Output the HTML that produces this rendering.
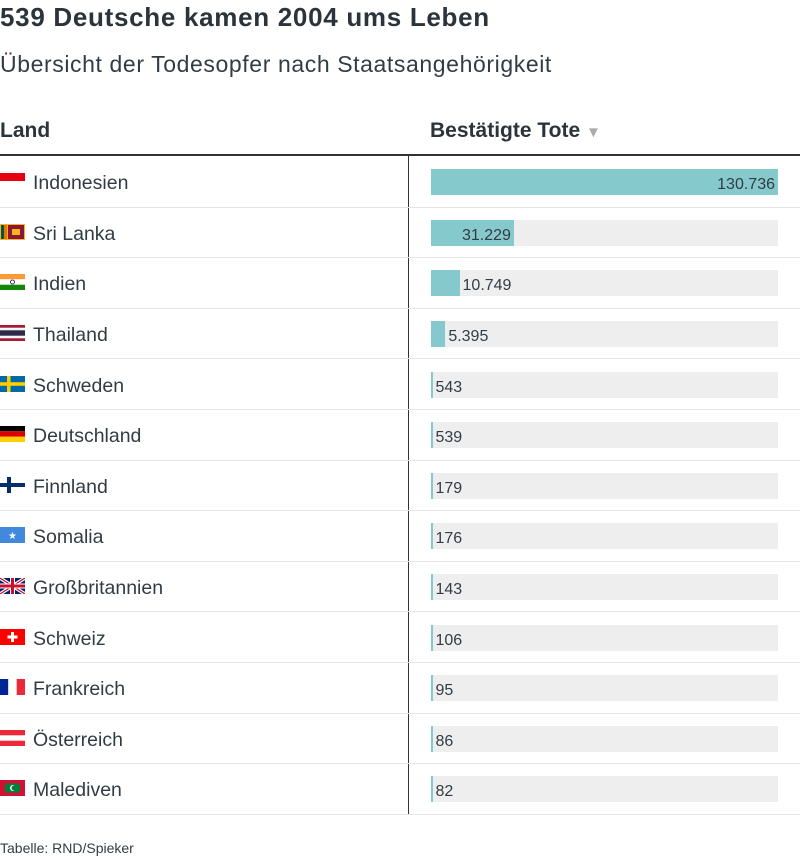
<!DOCTYPE html>
<html><head><meta charset="utf-8">
<style>
body{margin:0;width:800px;height:854px;overflow:hidden;background:#fff;font-family:"Liberation Sans",sans-serif;color:#333c45;position:relative}
#title{position:absolute;left:0;top:2px;font-size:26px;font-weight:bold;color:#2b333b;white-space:nowrap;letter-spacing:0.7px}
#sub{position:absolute;left:0;top:51px;font-size:23px;color:#333c45;white-space:nowrap;letter-spacing:0.6px}
.hd{position:absolute;top:119px;font-size:21px;font-weight:bold;color:#2b333b}
#hline{position:absolute;left:0;top:154px;width:800px;height:2px;background:#333}
#vline{position:absolute;left:408px;top:156px;width:1px;height:658px;background:#333}
.row{position:absolute;left:0;width:800px;border-bottom:1px solid #e4e4e4}
.name{position:absolute;left:33px;font-size:19.5px;color:#333c45;white-space:nowrap}
.flag{position:absolute;left:0;width:25px;height:16px}
.track{position:absolute;left:431px;width:347px;height:26px;background:#eeeeee}
.bar{position:absolute;left:0;top:0;height:26px;background:#86c9cd}
.val{position:absolute;top:6px;font-size:16px;color:#333c45;white-space:nowrap}
#foot{position:absolute;left:0;top:840px;font-size:14px;color:#333c45}
</style></head><body>
<div id="title">539 Deutsche kamen 2004 ums Leben</div>
<div id="sub">Übersicht der Todesopfer nach Staatsangehörigkeit</div>
<div class="hd" style="left:0">Land</div>
<div class="hd" style="left:430px">Bestätigte Tote <span style="color:#aaa;font-size:15px">▼</span></div>
<div id="hline"></div>
<div id="vline"></div>
<div id="rows"></div>
<div id="foot">Tabelle: RND/Spieker</div>
<script>
const countries=["Indonesien","Sri Lanka","Indien","Thailand","Schweden","Deutschland","Finnland","Somalia","Großbritannien","Schweiz","Frankreich","Österreich","Malediven"];
const deaths=[130736,31229,10749,5395,543,539,179,176,143,106,95,86,82];
const flagCodes=["id","lk","in","th","se","de","fi","so","gb","ch","fr","at","mv"];
const flags={
id:'<rect width="25" height="8" fill="#e70011"/><rect y="8" width="25" height="8" fill="#fff"/>',
lk:'<rect width="25" height="16" fill="#f7b718"/><rect x="1" y="1" width="3" height="14" fill="#00534e"/><rect x="4" y="1" width="3" height="14" fill="#eb7400"/><rect x="8" y="1" width="16" height="14" fill="#8d153a"/><rect x="12" y="5" width="8" height="6" fill="#f7b718"/>',
in:'<rect width="25" height="5.3" fill="#ff9933"/><rect y="5.3" width="25" height="5.4" fill="#fff"/><rect y="10.7" width="25" height="5.3" fill="#138808"/><circle cx="12.5" cy="8" r="2" fill="none" stroke="#000080" stroke-width="0.8"/>',
th:'<rect width="25" height="16" fill="#a51931"/><rect y="2.7" width="25" height="10.6" fill="#f4f5f8"/><rect y="5.3" width="25" height="5.4" fill="#2d2a4a"/>',
se:'<rect width="25" height="16" fill="#006aa7"/><rect x="7" width="3.5" height="16" fill="#fecc00"/><rect y="6.2" width="25" height="3.6" fill="#fecc00"/>',
de:'<rect width="25" height="5.3" fill="#000"/><rect y="5.3" width="25" height="5.4" fill="#dd0000"/><rect y="10.7" width="25" height="5.3" fill="#ffce00"/>',
fi:'<rect width="25" height="16" fill="#fff"/><rect x="7" width="4" height="16" fill="#002f6c"/><rect y="6" width="25" height="4" fill="#002f6c"/>',
so:'<rect width="25" height="16" fill="#4189dd"/><text x="12.5" y="12" font-size="10" text-anchor="middle" fill="#fff">★</text>',
gb:'<rect width="25" height="16" fill="#012169"/><path d="M0 0L25 16M25 0L0 16" stroke="#fff" stroke-width="3.5"/><path d="M0 0L25 16M25 0L0 16" stroke="#c8102e" stroke-width="1.2"/><path d="M12.5 0V16M0 8H25" stroke="#fff" stroke-width="5"/><path d="M12.5 0V16M0 8H25" stroke="#c8102e" stroke-width="3"/>',
ch:'<rect width="25" height="16" fill="#ff0000"/><rect x="11" y="3" width="3" height="10" fill="#fff"/><rect x="7.5" y="6.5" width="10" height="3" fill="#fff"/>',
fr:'<rect width="8.3" height="16" fill="#002395"/><rect x="8.3" width="8.4" height="16" fill="#fff"/><rect x="16.7" width="8.3" height="16" fill="#ed2939"/>',
at:'<rect width="25" height="16" fill="#ed2939"/><rect y="5.3" width="25" height="5.4" fill="#fff"/>',
mv:'<rect width="25" height="16" fill="#d21034"/><rect x="5" y="3.5" width="15" height="9" fill="#007e3a"/><circle cx="13" cy="8" r="3" fill="#fff"/><circle cx="14.2" cy="8" r="2.6" fill="#007e3a"/>'
};
const rowsEl=document.getElementById('rows');
const top0=157, rowH=50.6, trackW=347;
const maxV=Math.max(...deaths);
const xScale=v=>v/maxV*trackW;
const fmt=v=>v.toLocaleString('de-DE');
countries.forEach((c,i)=>{
  const y=top0+i*rowH;
  const row=document.createElement('div');
  
  
  row.className='row';
  row.style.top=y+'px';row.style.height=(rowH-1)+'px';
  const f=document.createElementNS('http://www.w3.org/2000/svg','svg');
  
  
  f.setAttribute('class','flag');f.setAttribute('viewBox','0 0 25 16');
  f.style.top=(rowH/2-9)+'px';
  f.innerHTML=flags[flagCodes[i]];
  row.appendChild(f);
  const n=document.createElement('div');
  
  
  n.className='name';n.textContent=c;n.style.top=(rowH/2-10)+'px';
  row.appendChild(n);
  const t=document.createElement('div');
  
  
  t.className='track';t.style.top=(rowH/2-13)+'px';
  const w=Math.max(1.5,xScale(deaths[i]));
  const b=document.createElement('div');
  
  
  b.className='bar';b.style.width=w+'px';
  t.appendChild(b);
  const l=document.createElement('div');
  
  
  l.className='val';l.textContent=fmt(deaths[i]);l.style.top='7px';
  const lw=fmt(deaths[i]).length*9;
  if(w>lw+8){l.style.right=(trackW-w+3)+'px';}else{l.style.left=(w+3)+'px';}
  t.appendChild(l);
  row.appendChild(t);
  rowsEl.appendChild(row);
});
</script>
</body></html>
